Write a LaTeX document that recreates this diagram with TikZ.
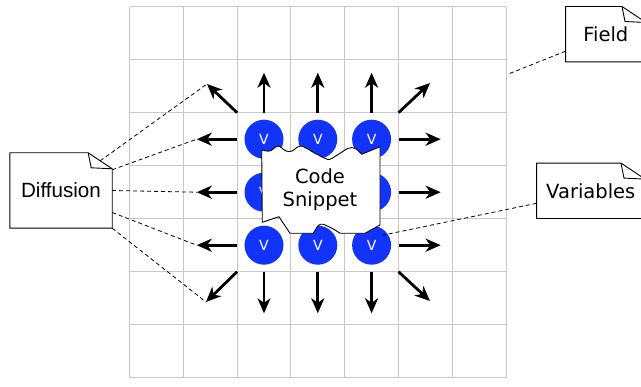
\documentclass[tikz,border=0pt]{standalone}
\usepackage{fontspec}
\setmainfont{DejaVu Sans}
\newfontfamily\helvfont{Liberation Sans}
\usetikzlibrary{arrows.meta}

\definecolor{varblue}{RGB}{18,52,250}
\definecolor{gridgray}{RGB}{200,200,200}

% outline of a note with a dog-eared top right corner
\newcommand{\dognote}[1]{%
    \draw[noteline] ([xshift=-24pt]#1.north east) -- (#1.north west) -- (#1.south west)
        -- (#1.south east) -- ([yshift=-16pt]#1.north east) -- cycle;
    \draw[noteline] ([xshift=-24pt]#1.north east) -- ([xshift=-21pt,yshift=-15pt]#1.north east)
        -- ([yshift=-16pt]#1.north east);
}

\begin{document}
\begin{tikzpicture}[
    x=1pt, y=-1pt,
    gridline/.style={gridgray, line width=1pt},
    var/.style={circle, fill=varblue, minimum size=39pt, inner sep=0pt, text=white, font=\fontsize{14}{16}\selectfont},
    flow/.style={-{Stealth[length=15pt, width=13pt, inset=4.5pt]}, line width=2.8pt},
    note/.style={rectangle, fill=white, inner sep=0pt, font=\fontsize{19.5}{23}\selectfont},
    noteline/.style={black, line width=0.9pt, line join=round},
    snippet/.style={fill=white, draw=black, line width=0.9pt, line join=round},
    link/.style={black, line width=0.8pt, dash pattern=on 4pt off 3pt}
]
    \useasboundingbox (0,0) rectangle (641,387);

    % --- FIELD GRID (7 x 7 cells) ---
    \foreach \i in {0,...,7} {
        \draw[gridline] (129.5+53.8*\i, 6.7) -- (129.5+53.8*\i, 377.7);
        \draw[gridline] (129.5, 6.7+53*\i) -- (506.1, 6.7+53*\i);
    }

    % --- DIFFUSION ARROWS ---
    % straight ones, one per column / row of variables
    \foreach \x [count=\i] in {264,317.8,371.6} {
        \coordinate (up\i-s) at (\x,112.7);  \coordinate (up\i) at (\x,72.7);
        \coordinate (dn\i-s) at (\x,271.7);  \coordinate (dn\i) at (\x,313.3);
        \draw[flow] (up\i-s) -- (up\i);
        \draw[flow] (dn\i-s) -- (dn\i);
    }
    \foreach \y [count=\j] in {139.2,192.2,245.2} {
        \coordinate (lt\j-s) at (237.1,\y);  \coordinate (lt\j) at (196.7,\y);
        \coordinate (rt\j-s) at (398.5,\y);  \coordinate (rt\j) at (440.7,\y);
        \draw[flow] (lt\j-s) -- (lt\j);
        \draw[flow] (rt\j-s) -- (rt\j);
    }
    % diagonal ones at the corners
    \coordinate (nw-s) at (237.1,112.7);  \coordinate (nw) at (207,84);
    \coordinate (ne-s) at (398.5,112.7);  \coordinate (ne) at (430,83);
    \coordinate (sw-s) at (237.1,271.7);  \coordinate (sw) at (206,302);
    \coordinate (se-s) at (398.5,271.7);  \coordinate (se) at (430,301);
    \foreach \d in {nw,ne,sw,se} \draw[flow] (\d-s) -- (\d);

    % --- VARIABLES ---
    % the middle one sits fully under the snippet, so it gets no label
    \foreach \x [count=\i] in {264,317.8,371.6}
        \foreach \y [count=\j] in {139.2,192.2,245.2} {
            \ifnum\i\j=22
                \node[var] (v\i\j) at (\x,\y) {};
            \else
                \node[var] (v\i\j) at (\x,\y) {V};
            \fi
        }

    % --- CODE SNIPPET (torn paper) ---
    \draw[snippet] (261.7,150) -- plot[smooth, tension=0.55] coordinates {(261.7,150) (270,151) (278,146)
        (286,151) (292,151) (301,146) (315,153.3) (325,158.3) (330,159.3) (340,153.3) (348.3,148.3)
        (355,148.3) (361.7,154.3)} -- (380,146.7) -- (380,225) -- (365,233.3) -- (340,233.3)
        -- plot[smooth, tension=0.55] coordinates {(340,233.3) (335,230) (323.3,224.3) (318.3,225.7) (313.3,233.3)}
        -- (290,233.3) -- (279,216.7) -- (262.3,222.3) -- cycle;
    \node[note, fill=none, align=center] (code) at (320,190) {Code\\Snippet};

    % --- NOTES ---
    \node[note, minimum width=102pt, minimum height=75pt, font=\helvfont\fontsize{20.6}{24}\selectfont] (diff) at (61,190.5) {Diffusion};
    \node[note, minimum width=80pt, minimum height=55pt] (fld) at (605.8,34.2) {Field};
    \node[note, minimum width=108pt, minimum height=55pt] (vars) at (590.8,190.8) {Variables};
    \foreach \n in {diff,fld,vars} {\dognote{\n}}

    % --- NOTE LINKS ---
    \coordinate (fieldpt) at (508.3,74);
    \draw[link] ([xshift=-12pt,yshift=-8pt]diff.north east) -- (nw);
    \draw[link] ([yshift=-17pt]diff.north east) -- (lt1);
    \draw[link] (diff.east) -- (lt2);
    \draw[link] ([yshift=-22pt]diff.east) -- (lt3);
    \draw[link] (diff.south east) -- (sw);
    \draw[link] ([yshift=-17pt]fld.west) -- (fieldpt);
    \draw[link] ([yshift=-12.5pt]vars.west) -- ([shift={(11pt,10pt)}]v33.center);

\end{tikzpicture}
\end{document}
